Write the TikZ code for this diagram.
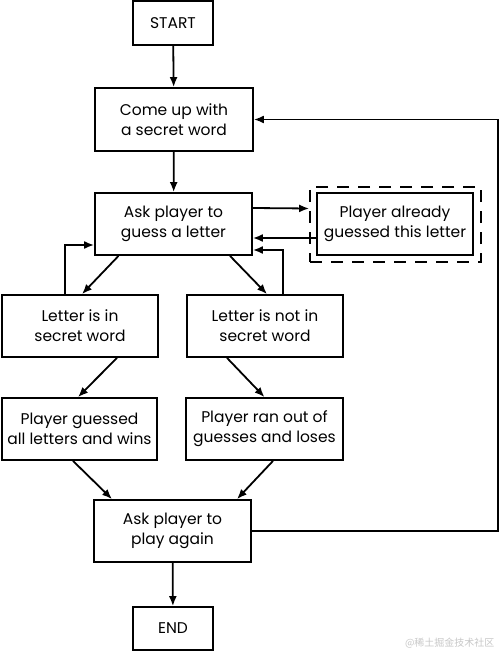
\documentclass[tikz,border=0pt]{standalone}
\usepackage{fontspec}
\setmainfont{Poppins}
\newfontfamily\cjk{Noto Sans CJK SC}
\usetikzlibrary{arrows.meta}
\tikzset{
  box/.style={draw, line width=1.8pt, align=center, inner sep=0pt,
    font=\fontsize{15.5}{20}\selectfont, text=black},
  conn/.style={line width=1.8pt, -{Latex[length=10pt,width=8pt]}},
  dashbox/.style={draw, line width=1.8pt, dash pattern=on 12pt off 9pt, inner sep=0pt}
}
\begin{document}
\begin{tikzpicture}[x=1pt,y=-1pt]
\useasboundingbox (0,0) rectangle (501,652);
\node[box, minimum width=80pt, minimum height=44pt] (start) at (173,23) {START};
\node[box, minimum width=158pt, minimum height=63pt] (come) at (174,119.5) {Come up with\\a secret word};
\node[box, minimum width=157pt, minimum height=62pt] (ask) at (173.5,224) {Ask player to\\guess a letter};
\node[box, minimum width=156pt, minimum height=62pt] (already) at (395,224) {Player already\\guessed this letter};
\node[dashbox, minimum width=171pt, minimum height=75pt] (dash) at (395.5,224.5) {};
\node[box, minimum width=156pt, minimum height=62pt] (lin) at (80,326) {Letter is in\\secret word};
\node[box, minimum width=156pt, minimum height=62pt] (lnot) at (265,326) {Letter is not in\\secret word};
\node[box, minimum width=155pt, minimum height=62pt] (win) at (79.5,429) {Player guessed\\all letters and wins};
\node[box, minimum width=157pt, minimum height=62pt] (lose) at (264.5,429) {Player ran out of\\guesses and loses};
\node[box, minimum width=157pt, minimum height=62pt] (again) at (172.5,531) {Ask player to\\play again};
\node[box, minimum width=80pt, minimum height=43pt] (end) at (173,628.5) {END};
\coordinate (rb) at (498,531);
\coordinate (rt) at (498,119.5);
\node[font=\cjk\fontsize{10}{11}\selectfont, text=black!22, anchor=east] (wm) at (498,643) {@稀土掘金技术社区};

\draw[conn] (start) -- (come);
\draw[conn] (come) -- (ask);
\draw[conn] ([yshift=16pt]ask.east) -- ([yshift=16pt]dash.west);
\draw[conn] ([yshift=-14pt]already.west) -- ([yshift=-14pt]ask.east);
\draw[conn] ([xshift=-55pt]ask.south) -- ([xshift=2pt]lin.north);
\draw[conn] ([xshift=56.5pt]ask.south) -- ([xshift=2pt]lnot.north);
\draw[conn] ([xshift=-15pt]lin.north) |- ([yshift=-21pt]ask.west);
\draw[conn] ([xshift=18pt]lnot.north) |- ([yshift=-26pt]ask.east);
\draw[conn] ([xshift=37pt]lin.south) -- ([xshift=-1.5pt]win.north);
\draw[conn] ([xshift=-38pt]lnot.south) -- (lose.north);
\draw[conn] ([xshift=-6.5pt]win.south) -- ([xshift=-60.5pt]again.north);
\draw[conn] ([xshift=8.5pt]lose.south) -- ([xshift=64.5pt]again.north);
\draw[conn] (again) -- (end);
\draw[conn] (again.east) -- (rb) -- (rt) -- (come.east);
\end{tikzpicture}
\end{document}
